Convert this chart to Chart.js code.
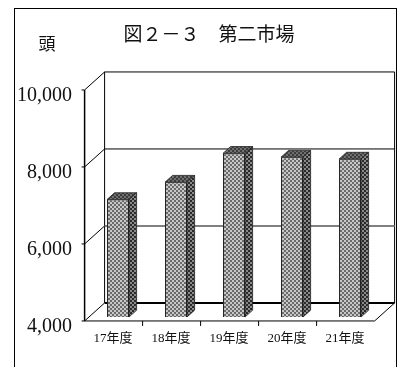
<!DOCTYPE html>
<html><head><meta charset="utf-8">
<script src="https://cdn.jsdelivr.net/npm/chart.js@4"></script>
<style>html,body{margin:0;padding:0;background:#fff}canvas{display:block}</style>
</head><body>
<canvas id="cattleChart" width="401" height="367"></canvas>
<script>
const categories = ["17年度", "18年度", "19年度", "20年度", "21年度"];
const headCounts = [7050, 7500, 8250, 8150, 8100];
const yTicks = [4000, 6000, 8000, 10000];
const chartTitle = "図２－３　第二市場";
const unitLabel = "頭";

const serif = "'Liberation Serif', 'Noto Sans CJK JP', serif";

// fake 3D box: total depth offset, bars sit at ~22% of the depth
const depthX = 20, depthY = -18, barDepthAt = 0.22, barDepth = 0.38;

function checker(a, b) {
  const c = document.createElement("canvas");
  c.width = 4; c.height = 4;
  const g = c.getContext("2d");
  g.fillStyle = a; g.fillRect(0, 0, 4, 4);
  g.fillStyle = b; g.fillRect(0, 0, 2, 2); g.fillRect(2, 2, 2, 2);
  return g.createPattern(c, "repeat");
}
const frontFill = checker("#6a6a6a", "#c8c8c8");
const sideFill = checker("#2a2a2a", "#8a8a8a");
const topFill = checker("#3c3c3c", "#707070");

function line(ctx, x1, y1, x2, y2, w, color) {
  ctx.beginPath();
  ctx.lineWidth = w;
  ctx.strokeStyle = color;
  ctx.moveTo(x1, y1);
  ctx.lineTo(x2, y2);
  ctx.stroke();
}

const box3d = {
  id: "box3d",
  beforeDraw(chart) {
    const ctx = chart.ctx;
    ctx.save();
    ctx.fillStyle = "#fff";
    ctx.fillRect(0, 0, chart.width, chart.height);
    ctx.strokeStyle = "#000";
    ctx.lineWidth = 1;
    ctx.strokeRect(14.5, 8.5, 382, 400);
    ctx.restore();
  },
  beforeDatasetsDraw(chart) {
    const { ctx, chartArea: a, scales: { x, y } } = chart;
    const fx = -barDepthAt * depthX, fy = -barDepthAt * depthY;
    const bx = (1 - barDepthAt) * depthX, by = (1 - barDepthAt) * depthY;
    const yMin = y.getPixelForValue(yTicks[0]);
    const yMax = y.getPixelForValue(yTicks[yTicks.length - 1]);
    ctx.save();

    // back wall
    line(ctx, a.left + bx, yMax + by, a.left + bx, yMin + by, 1, "#000");
    line(ctx, a.left + bx, yMax + by, a.right + bx, yMax + by, 1, "#000");
    line(ctx, a.right + bx, yMax + by, a.right + bx, yMin + by, 1, "#000");
    yTicks.slice(1, -1).forEach((v, i) => {
      const py = y.getPixelForValue(v) + by;
      if (i === 0) line(ctx, a.left + bx, py, a.right + bx, py, 2, "#808080");
      else line(ctx, a.left + bx, py, a.right + bx, py, 1, "#000");
    });
    line(ctx, a.left + bx, yMin + by, a.right + bx, yMin + by, 2, "#000");

    // side wall diagonals and front axis
    yTicks.forEach(v => {
      const py = y.getPixelForValue(v);
      line(ctx, a.left + fx, py + fy, a.left + bx, py + by, 1, "#000");
      line(ctx, a.left + fx - 3, py + fy, a.left + fx, py + fy, 1, "#000");
    });
    line(ctx, a.left + fx, yMax + fy, a.left + fx, yMin + fy, 1.5, "#000");

    // floor
    line(ctx, a.left + fx, yMin + fy, a.right + fx, yMin + fy, 1, "#000");
    line(ctx, a.right + fx, yMin + fy, a.right + bx, yMin + by, 1, "#000");
    const step = (a.right - a.left) / categories.length;
    for (let i = 1; i < categories.length; i++) {
      const px = a.left + fx + step * i;
      line(ctx, px, yMin + fy, px, yMin + fy + 5, 1, "#000");
    }
    ctx.restore();
  },
  afterDatasetsDraw(chart) {
    const ctx = chart.ctx;
    const bottom = chart.chartArea.bottom;
    const dx = barDepth * depthX, dy = barDepth * depthY;
    ctx.save();
    ctx.lineWidth = 0.8;
    ctx.strokeStyle = "#222";
    chart.getDatasetMeta(0).data.forEach(el => {
      const p = el.getProps(["x", "y", "base", "width"], true);
      const y = p.y, base = Math.min(p.base, bottom);
      const L = p.x - p.width / 2, R = p.x + p.width / 2;
      ctx.beginPath();
      ctx.moveTo(L, y); ctx.lineTo(R, y); ctx.lineTo(R + dx, y + dy); ctx.lineTo(L + dx, y + dy);
      ctx.closePath();
      ctx.fillStyle = topFill; ctx.fill(); ctx.stroke();
      ctx.beginPath();
      ctx.moveTo(R, y); ctx.lineTo(R + dx, y + dy); ctx.lineTo(R + dx, base + dy); ctx.lineTo(R, base);
      ctx.closePath();
      ctx.fillStyle = sideFill; ctx.fill(); ctx.stroke();
    });
    ctx.restore();
  },
  afterDraw(chart) {
    const ctx = chart.ctx;
    ctx.save();
    ctx.fillStyle = "#111";
    ctx.textAlign = "center";
    ctx.textBaseline = "middle";
    ctx.font = "19px 'Noto Sans CJK JP'";
    ctx.fillText(chartTitle, 209, 34);
    ctx.font = "17px 'Noto Sans CJK JP'";
    ctx.fillText(unitLabel, 47, 44);
    ctx.restore();
  }
};

new Chart(document.getElementById("cattleChart"), {
  type: "bar",
  data: {
    labels: categories,
    datasets: [{
      data: headCounts,
      base: yTicks[0],
      backgroundColor: frontFill,
      borderColor: "#222",
      borderWidth: 1,
      barPercentage: 0.38,
      categoryPercentage: 1
    }]
  },
  options: {
    responsive: false,
    animation: false,
    devicePixelRatio: 1,
    layout: { padding: { left: 0, right: 22, top: 86, bottom: 0 } },
    plugins: { legend: { display: false }, tooltip: { enabled: false } },
    scales: {
      x: {
        grid: { display: false, drawTicks: false },
        border: { display: false },
        ticks: { font: { family: serif, size: 13 }, color: "#111", padding: 14, labelOffset: -5, maxRotation: 0 },
        afterFit(s) { s.height = 50; }
      },
      y: {
        min: 4000,
        max: 10000,
        afterBuildTicks(s) { s.ticks = yTicks.map(v => ({ value: v })); },
        grid: { display: false, drawTicks: false },
        border: { display: false },
        ticks: { font: { family: serif, size: 20 }, color: "#111", padding: 17, labelOffset: 10,
                 callback: v => v.toLocaleString("en-US") },
        afterFit(s) { s.width = 89; }
      }
    }
  },
  plugins: [box3d]
});
</script>
</body></html>
